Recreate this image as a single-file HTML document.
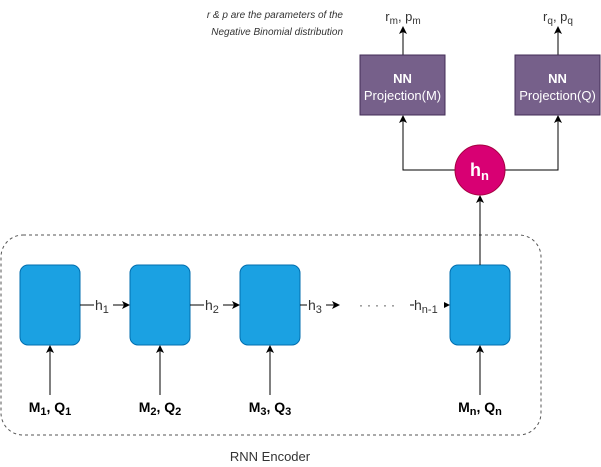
<!DOCTYPE html>
<html><head><meta charset="utf-8"><style>
html,body{margin:0;padding:0;background:#fff;}
svg{display:block;font-family:"Liberation Sans",Arial,sans-serif;}
</style></head><body>
<svg width="601" height="467" viewBox="0 0 601 467" xmlns="http://www.w3.org/2000/svg">
<defs>
<marker id="a" markerWidth="8" markerHeight="8" refX="7" refY="4" orient="auto" markerUnits="userSpaceOnUse">
<path d="M0,0 L8,4 L0,8 L2,4 Z" fill="#000"/>
</marker>
</defs>
<rect x="1" y="235" width="540" height="200" rx="22" fill="none" stroke="#555" stroke-dasharray="3,3"/>
<text x="270" y="461" font-size="13" text-anchor="middle" fill="#333">RNN Encoder</text>

<g fill="#1ba1e2" stroke="#006eaf">
<rect x="20" y="265" width="60" height="80" rx="8"/>
<rect x="130" y="265" width="60" height="80" rx="8"/>
<rect x="240" y="265" width="60" height="80" rx="8"/>
<rect x="450" y="265" width="60" height="80" rx="8"/>
</g>

<g stroke="#000" fill="none">
<line x1="80" y1="305" x2="129" y2="305" marker-end="url(#a)"/>
<line x1="190" y1="305" x2="239" y2="305" marker-end="url(#a)"/>
<line x1="300" y1="305" x2="339" y2="305" marker-end="url(#a)"/>
<line x1="410" y1="305" x2="449" y2="305" marker-end="url(#a)"/>
<line x1="50" y1="395" x2="50" y2="346" marker-end="url(#a)"/>
<line x1="160" y1="395" x2="160" y2="346" marker-end="url(#a)"/>
<line x1="270" y1="395" x2="270" y2="346" marker-end="url(#a)"/>
<line x1="480" y1="395" x2="480" y2="346" marker-end="url(#a)"/>
<line x1="480" y1="265" x2="480" y2="196" marker-end="url(#a)"/>
<polyline points="455,170 403,170 403,116" marker-end="url(#a)"/>
<polyline points="505,170 558,170 558,116" marker-end="url(#a)"/>
<line x1="403" y1="55" x2="403" y2="27" marker-end="url(#a)"/>
<line x1="558" y1="55" x2="558" y2="27" marker-end="url(#a)"/>
</g>

<g font-size="14" fill="#333">
<rect x="94" y="296" width="19" height="18" fill="#fff"/>
<text x="95" y="310">h<tspan font-size="11" dy="3">1</tspan></text>
<rect x="204" y="296" width="19" height="18" fill="#fff"/>
<text x="205" y="310">h<tspan font-size="11" dy="3">2</tspan></text>
<rect x="307" y="296" width="19" height="18" fill="#fff"/>
<text x="308" y="310">h<tspan font-size="11" dy="3">3</tspan></text>
<rect x="414" y="296" width="30" height="18" fill="#fff"/>
<text x="414" y="310">h<tspan font-size="11" dy="3">n-1</tspan></text>
<text x="359" y="309" font-size="12" letter-spacing="4">·····</text>
</g>

<g font-size="14" font-weight="bold" fill="#000" text-anchor="middle">
<text x="50" y="412">M<tspan font-size="11" dy="3">1</tspan><tspan dy="-3">, Q</tspan><tspan font-size="11" dy="3">1</tspan></text>
<text x="160" y="412">M<tspan font-size="11" dy="3">2</tspan><tspan dy="-3">, Q</tspan><tspan font-size="11" dy="3">2</tspan></text>
<text x="270" y="412">M<tspan font-size="11" dy="3">3</tspan><tspan dy="-3">, Q</tspan><tspan font-size="11" dy="3">3</tspan></text>
<text x="480" y="412">M<tspan font-size="11" dy="3">n</tspan><tspan dy="-3">, Q</tspan><tspan font-size="11" dy="3">n</tspan></text>
</g>

<circle cx="480" cy="170" r="25" fill="#d80073" stroke="#a50040"/>
<text x="470" y="176" font-size="18" font-weight="bold" fill="#fff">h<tspan font-size="13" dy="4">n</tspan></text>

<g fill="#76608a" stroke="#432d57">
<rect x="360" y="55" width="85" height="60"/>
<rect x="515" y="55" width="85" height="60"/>
</g>
<g font-size="13" fill="#fff" text-anchor="middle">
<text x="402.5" y="83" font-weight="bold">NN</text>
<text x="402.5" y="100">Projection(M)</text>
<text x="557.5" y="83" font-weight="bold">NN</text>
<text x="557.5" y="100">Projection(Q)</text>
</g>

<g font-size="13" fill="#333" text-anchor="middle">
<text x="403" y="21">r<tspan font-size="10" dy="3">m</tspan><tspan dy="-3">, p</tspan><tspan font-size="10" dy="3">m</tspan></text>
<text x="558" y="21">r<tspan font-size="10" dy="3">q</tspan><tspan dy="-3">, p</tspan><tspan font-size="10" dy="3">q</tspan></text>
</g>
<g font-size="10" font-style="italic" fill="#333" text-anchor="end">
<text x="343" y="18">r &amp; p are the parameters of the</text>
<text x="343" y="35">Negative Binomial distribution</text>
</g>
</svg>
</body></html>
